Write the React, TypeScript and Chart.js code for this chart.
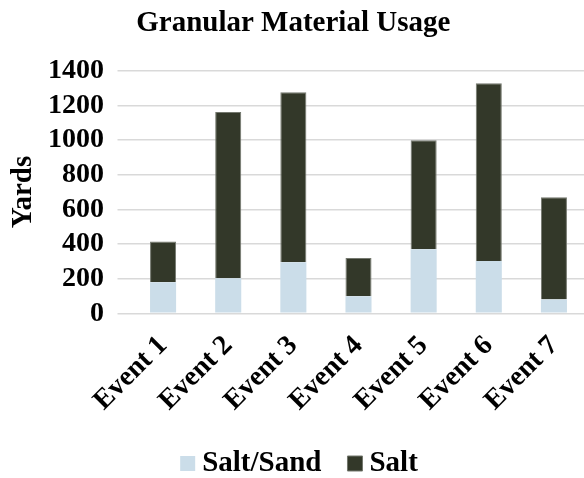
import React, { useEffect, useRef } from 'react';
import { Chart, registerables } from 'chart.js';

Chart.register(...registerables);

const categories = ['Event 1', 'Event 2', 'Event 3', 'Event 4', 'Event 5', 'Event 6', 'Event 7'];
const saltSandValues = [179, 202, 294, 98, 369, 302, 79];
const saltValues = [236, 959, 981, 221, 629, 1025, 590];
const yMin = 0;
const yMax = 1400;
const yStep = 200;

const FONT = "'Liberation Serif', 'Times New Roman', Times, serif";

const legendShift = {
  id: 'legendShift',
  afterLayout(chart: any) {
    if (chart.legend) {
      chart.legend.left += 9.5;
      chart.legend.right += 9.5;
    }
  },
};

export default function App() {
  const ref = useRef<HTMLCanvasElement>(null);

  useEffect(() => {
    if (!ref.current) return;
    const chart = new Chart(ref.current, {
      type: 'bar',
      data: {
        labels: categories,
        datasets: [
          {
            label: 'Salt/Sand',
            data: saltSandValues,
            backgroundColor: '#cbdde9',
            borderWidth: 0,
          },
          {
            label: 'Salt',
            data: saltValues,
            backgroundColor: '#333829',
            borderColor: '#74786e',
            borderWidth: 1,
          },
        ],
      },
      plugins: [legendShift],
      options: {
        responsive: false,
        animation: false,
        devicePixelRatio: 1,
        layout: { padding: { left: 0, right: 13.5, top: 0, bottom: 0 } },
        datasets: { bar: { categoryPercentage: 1, barPercentage: 0.4 } },
        plugins: {
          title: {
            display: true,
            text: 'Granular Material Usage',
            color: '#000',
            font: { family: FONT, size: 29, weight: 'bold' },
            padding: { top: 6.6, bottom: 29.3 },
          },
          legend: {
            position: 'bottom',
            labels: {
              color: '#000',
              font: { family: FONT, size: 29, weight: 'bold' },
              usePointStyle: true,
              pointStyle: 'rect',
              boxWidth: 0.01,
              boxHeight: 15,
              padding: 33.5,
            },
          },
          tooltip: { enabled: false },
        },
        scales: {
          x: {
            stacked: true,
            grid: { display: false, drawTicks: false },
            border: { display: false },
            ticks: {
              color: '#000',
              font: { family: FONT, size: 28, weight: 'bold' },
              maxRotation: 45,
              minRotation: 45,
              padding: 16,
              autoSkip: false,
            },
            afterFit: (s: any) => {
              s.height = 102.2;
            },
          },
          y: {
            stacked: true,
            min: yMin,
            max: yMax,
            grid: { color: '#d9d9d9', lineWidth: 1.5, drawTicks: true, tickLength: 13 },
            border: { display: false },
            ticks: {
              stepSize: yStep,
              autoSkip: false,
              color: '#000',
              font: { family: FONT, size: 28, weight: 'bold' },
              padding: 13.5,
              callback: (v: any) => String(v),
            },
            title: {
              display: true,
              text: 'Yards',
              color: '#000',
              font: { family: FONT, size: 29, weight: 'bold' },
              padding: { top: 6, bottom: 0 },
            },
            afterFit: (s: any) => {
              s.width = 130.5;
            },
          },
        },
      },
    });
    return () => chart.destroy();
  }, []);

  return (
    <div style={{ position: 'fixed', left: 0, top: 0, width: 584, height: 478, overflow: 'hidden', background: '#fff' }}>
      <canvas ref={ref} width={600} height={488} style={{ display: 'block' }} />
    </div>
  );
}
